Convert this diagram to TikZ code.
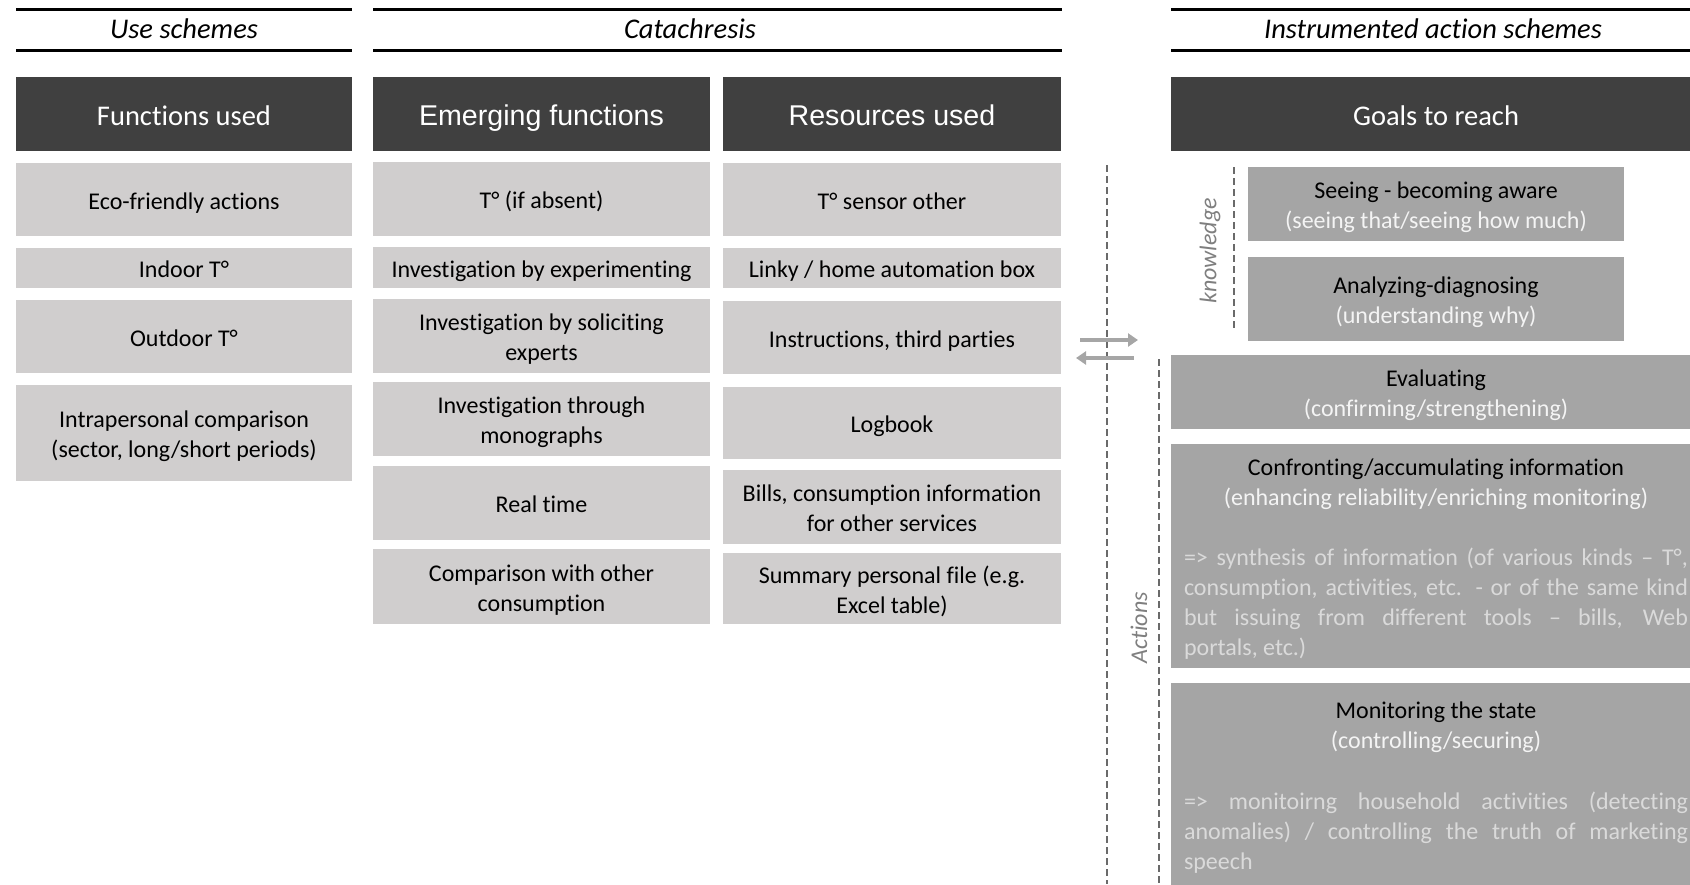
\documentclass[tikz,border=0pt]{standalone}
\usepackage{fontspec}
\setmainfont{Carlito}[Ligatures=NoCommon]
\newfontfamily\arialfont{Liberation Sans}
\usetikzlibrary{arrows.meta}
\definecolor{hdr}{HTML}{404040}
\definecolor{lbox}{HTML}{D0CECE}
\definecolor{gbox}{HTML}{A5A5A5}
\definecolor{paratext}{HTML}{DADADA}
\definecolor{subtext}{HTML}{F4F4F4}
\definecolor{lbltext}{HTML}{7F7F7F}
\definecolor{dashcol}{HTML}{6A6A6A}
\definecolor{arrcol}{HTML}{A6A6A6}
\newcommand\cs{\rule[-0.2em]{0pt}{1.2em}}
\tikzset{
  lcell/.style={fill=lbox, inner sep=0pt, align=center, text=black,
    font=\fontsize{24}{30}\selectfont},
  hcell/.style={fill=hdr, inner sep=0pt, align=center, text=white,
    font=\fontsize{28.5}{34}\selectfont},
  gcell/.style={fill=gbox, inner sep=0pt, align=center, text=black,
    font=\fontsize{24}{30}\selectfont},
  ttl/.style={inner sep=0pt, font=\fontsize{28.5}{33}\selectfont\itshape},
  rule/.style={line width=3pt, black},
  para/.style={inner sep=0pt, text width=504pt, align=justify, text=paratext,
    font=\fontsize{24}{30}\selectfont},
  gtitle/.style={inner sep=0pt, align=center, text=black,
    font=\fontsize{24}{30}\selectfont},
  sidelbl/.style={inner sep=0pt, rotate=90, text=lbltext,
    font=\fontsize{24}{29}\selectfont\itshape},
  dline/.style={dashcol, line width=1.2pt, dash pattern=on 7pt off 4pt},
  garrow/.style={arrcol, line width=4pt, -{Triangle[length=10pt,width=13pt]}},
}
\begin{document}
\begin{tikzpicture}[x=1pt,y=-1pt]
\useasboundingbox (0,0) rectangle (1690,884);
\clip (0,0) rectangle (1690,884);

% title rules
\draw[rule] (16,9) -- (352,9);
\draw[rule] (16,50) -- (352,50);
\draw[rule] (373,9) -- (1062,9);
\draw[rule] (373,50) -- (1062,50);
\draw[rule] (1171,9) -- (1701,9);
\draw[rule] (1171,50) -- (1701,50);
\node[ttl] (t1) at (184,29) {Use schemes};
\node[ttl] (t2) at (690,29) {Catachresis};
\node[ttl] (t3) at (1433,29) {Instrumented action schemes};

% headers
\node[hcell, minimum width=336pt, minimum height=74pt] (h1) at (184,114) {\cs Functions used\cs};
\node[hcell, minimum width=337pt, minimum height=74pt, font=\arialfont\fontsize{28.6}{34}\selectfont] (h2) at (541.5,114) {\cs Emerging functions\cs};
\node[hcell, minimum width=338pt, minimum height=74pt, font=\arialfont\fontsize{28.6}{34}\selectfont] (h3) at (892,114) {\cs Resources used\cs};
\node[hcell, minimum width=530pt, minimum height=74pt] (h4) at (1436,114) {\cs Goals to reach\cs};

% column 1
\node[lcell, minimum width=336pt, minimum height=73pt] (a1) at (184,199.5) {\cs Eco-friendly actions\cs};
\node[lcell, minimum width=336pt, minimum height=40pt] (a2) at (184,268) {\cs Indoor T°\cs};
\node[lcell, minimum width=336pt, minimum height=73pt] (a3) at (184,336.5) {\cs Outdoor T°\cs};
\node[lcell, minimum width=336pt, minimum height=96pt] (a4) at (184,433) {\cs Intrapersonal comparison\\(sector, long/short periods)\cs};

% column 2
\node[lcell, minimum width=337pt, minimum height=74pt] (b1) at (541.5,199) {\cs T° (if absent)\cs};
\node[lcell, minimum width=337pt, minimum height=41pt] (b2) at (541.5,267.5) {\cs Investigation by experimenting\cs};
\node[lcell, minimum width=337pt, minimum height=74pt] (b3) at (541.5,336) {\cs Investigation by soliciting\\experts\cs};
\node[lcell, minimum width=337pt, minimum height=74pt] (b4) at (541.5,419) {\cs Investigation through\\monographs\cs};
\node[lcell, minimum width=337pt, minimum height=74pt] (b5) at (541.5,503) {\cs Real time\cs};
\node[lcell, minimum width=337pt, minimum height=75pt] (b6) at (541.5,586.5) {\cs Comparison with other\\consumption\cs};

% column 3
\node[lcell, minimum width=338pt, minimum height=73pt] (c1) at (892,199.5) {\cs T° sensor other\cs};
\node[lcell, minimum width=338pt, minimum height=40pt] (c2) at (892,268) {\cs Linky / home automation box\cs};
\node[lcell, minimum width=338pt, minimum height=73pt] (c3) at (892,337.5) {\cs Instructions, third parties\cs};
\node[lcell, minimum width=338pt, minimum height=72pt] (c4) at (892,423) {\cs Logbook\cs};
\node[lcell, minimum width=338pt, minimum height=74pt] (c5) at (892,507) {\cs Bills, consumption information\\for other services\cs};
\node[lcell, minimum width=338pt, minimum height=71pt] (c6) at (892,588.5) {\cs Summary personal file (e.g.\\Excel table)\cs};

% dashed separators
\coordinate (d1t) at (1107,165);
\coordinate (d1b) at (1107,884);
\draw[dline] (d1t) -- (d1b);
\coordinate (kt) at (1234,167);
\coordinate (kb) at (1234,330);
\draw[dline] (kt) -- (kb);
\coordinate (at) at (1159,359);
\coordinate (ab) at (1159,884);
\draw[dline] (at) -- (ab);
\node[sidelbl] (klbl) at (1210,251) {knowledge};
\node[sidelbl] (albl) at (1139,628) {Actions};

% arrows
\coordinate (ra1) at (1080,340);
\coordinate (ra2) at (1138,340);
\draw[garrow] (ra1) -- (ra2);
\coordinate (la1) at (1134,358);
\coordinate (la2) at (1076,358);
\draw[garrow] (la1) -- (la2);

% right boxes
\node[gcell, minimum width=376pt, minimum height=74pt] (g1) at (1436,204) {\cs Seeing - becoming aware\\\textcolor{subtext}{(seeing that/seeing how much)}\cs};
\node[gcell, minimum width=376pt, minimum height=84pt] (g2) at (1436,299) {\cs Analyzing-diagnosing\\\textcolor{subtext}{(understanding why)}\cs};
\node[gcell, minimum width=530pt, minimum height=74pt] (g3) at (1436,392) {\cs Evaluating\\\textcolor{subtext}{(confirming/strengthening)}\cs};
\node[gcell, minimum width=530pt, minimum height=224pt] (g4) at (1436,556) {};
\node[gtitle] (g4t) at (1436,484) {Confronting/accumulating information\\\textcolor{subtext}{(enhancing reliability/enriching monitoring)}};
\node[para] (g4p) at (1436,604) {=> synthesis of information (of various kinds – T°,\linebreak consumption, activities, etc. - or of the same kind\linebreak but issuing from different tools – bills, Web\linebreak portals, etc.)};
\node[gcell, minimum width=530pt, minimum height=230pt] (g5) at (1436,798) {};
\node[gtitle] (g5t) at (1436,727) {Monitoring the state\\\textcolor{subtext}{(controlling/securing)}};
\node[para] (g5p) at (1436,833) {=> monitoirng household activities (detecting\linebreak anomalies) / controlling the truth of marketing\linebreak speech};
\end{tikzpicture}
\end{document}
